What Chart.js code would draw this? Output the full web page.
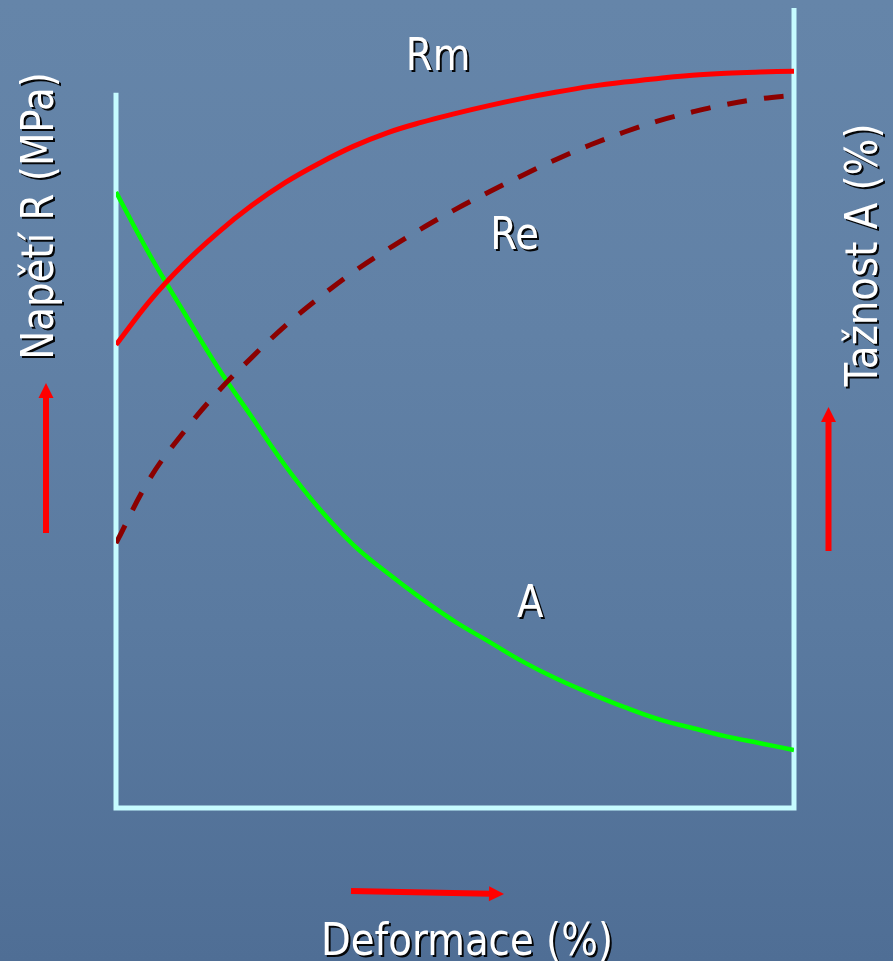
<!DOCTYPE html>
<html>
<head>
<meta charset="utf-8">
<script src="https://cdn.jsdelivr.net/npm/chart.js@4/dist/chart.umd.min.js"></script>
<style>
  html, body { margin: 0; padding: 0; }
  body {
    width: 893px; height: 961px; overflow: hidden;
    background: linear-gradient(180deg, #6585a9 0%, #6181a6 35%, #5a7aa0 65%, #4f6e95 100%);
  }
  #wrap { position: relative; width: 893px; height: 961px; }
  canvas { display: block; }
</style>
</head>
<body>
<div id="wrap"><canvas id="c" width="893" height="961"></canvas></div>
<script>
// Deformace (%) sample points along the horizontal axis
const deformace = [0, 5, 10, 15, 20, 25, 30, 35, 40, 45, 50, 55, 60, 65, 70, 75, 80, 85, 90, 95, 100];
// Mez pevnosti Rm (relative stress level)
const rm = [57.9, 63.4, 68.0, 71.9, 75.3, 78.2, 80.6, 82.7, 84.4, 85.7, 86.8, 87.8, 88.7, 89.5, 90.2, 90.75, 91.2, 91.6, 91.85, 92.0, 92.1];
// Mez kluzu Re (relative stress level)
const re = [33.1, 41.2, 47.0, 52.0, 56.3, 60.3, 63.8, 67.0, 69.8, 72.4, 74.8, 77.0, 79.1, 81.1, 82.9, 84.5, 85.9, 87.0, 87.95, 88.65, 89.1];
// Tažnost A (relative elongation level)
const tazA = [77.0, 69.1, 62.0, 55.1, 48.9, 42.75, 37.4, 32.9, 29.4, 26.2, 23.3, 20.8, 18.3, 16.15, 14.3, 12.6, 11.1, 10.0, 8.95, 8.1, 7.25];

// Curve labels anchored in data coordinates
const curveLabels = [
  { text: 'Rm', x: 47.5, y: 92.25 },
  { text: 'Re', x: 58.8, y: 69.9 },
  { text: 'A',  x: 61.1, y: 23.9 }
];
// Top ends of the two vertical axes (in y-scale units)
const leftAxisTop = 89.4;
const rightAxisTop = 100;

const toPts = (ys) => deformace.map((x, i) => ({ x, y: ys[i] }));

const FONT = '"DejaVu Sans", Verdana, sans-serif';
const FONT_PX = 44;
const SQUEEZE = 0.88;

function shadowText(ctx, text, x, y, rot) {
  ctx.save();
  ctx.translate(x, y);
  if (rot) ctx.rotate(rot);
  ctx.scale(SQUEEZE, 1);
  ctx.font = FONT_PX + 'px ' + FONT;
  ctx.textAlign = 'center';
  ctx.textBaseline = 'alphabetic';
  ctx.shadowColor = 'rgba(0,0,0,0.95)';
  ctx.shadowOffsetX = 2;
  ctx.shadowOffsetY = 2;
  ctx.shadowBlur = 0;
  ctx.fillStyle = '#ffffff';
  ctx.fillText(text, 0, 0);
  ctx.restore();
}

function arrow(ctx, x1, y1, x2, y2) {
  const ang = Math.atan2(y2 - y1, x2 - x1);
  const len = Math.hypot(x2 - x1, y2 - y1);
  ctx.save();
  ctx.translate(x1, y1);
  ctx.rotate(ang);
  ctx.fillStyle = '#ff0000';
  ctx.fillRect(0, -3, len - 14, 6);
  ctx.beginPath();
  ctx.moveTo(len, 0);
  ctx.lineTo(len - 15, -7.5);
  ctx.lineTo(len - 15, 7.5);
  ctx.closePath();
  ctx.fill();
  ctx.restore();
}

const frame = {
  id: 'frame',
  beforeDatasetsDraw(chart) {
    const { ctx, chartArea: a, scales: { y } } = chart;
    ctx.save();
    ctx.strokeStyle = '#c6fbff';
    ctx.lineWidth = 5;
    ctx.lineCap = 'butt';
    const bottom = y.getPixelForValue(0);
    ctx.beginPath();
    ctx.moveTo(a.left, y.getPixelForValue(leftAxisTop));
    ctx.lineTo(a.left, bottom + 2.5);
    ctx.moveTo(a.right, y.getPixelForValue(rightAxisTop));
    ctx.lineTo(a.right, bottom + 2.5);
    ctx.moveTo(a.left - 2.5, bottom);
    ctx.lineTo(a.right + 2.5, bottom);
    ctx.stroke();
    ctx.restore();
  },
  afterDraw(chart) {
    const { ctx, chartArea: a, scales: { x, y } } = chart;
    curveLabels.forEach(l => shadowText(ctx, l.text, x.getPixelForValue(l.x), y.getPixelForValue(l.y), 0));
    // Axis titles
    shadowText(ctx, 'Napětí R (MPa)', a.left - 63, 216, -Math.PI / 2);
    shadowText(ctx, 'Tažnost A (%)', a.right + 83, 255, -Math.PI / 2);
    shadowText(ctx, 'Deformace (%)', 467, a.bottom + 147, 0);
    // Direction arrows
    arrow(ctx, 46, 533, 46, 383);
    arrow(ctx, 828.5, 551, 828.5, 407);
    arrow(ctx, 351, 891, 504, 894);
  }
};

new Chart(document.getElementById('c'), {
  type: 'line',
  data: {
    datasets: [
      { label: 'Rm', data: toPts(rm), borderColor: '#ff0000', borderWidth: 5 },
      { label: 'Re', data: toPts(re), borderColor: '#8b0000', borderWidth: 5, borderDash: [20, 17] },
      { label: 'A', data: toPts(tazA), borderColor: '#00ff00', borderWidth: 4.5 }
    ]
  },
  options: {
    responsive: false,
    animation: false,
    events: [],
    layout: { padding: { left: 116, right: 99, top: 8, bottom: 153 } },
    elements: {
      point: { radius: 0 },
      line: { tension: 0.4, fill: false, borderCapStyle: 'butt' }
    },
    scales: {
      x: { type: 'linear', min: 0, max: 100, display: false },
      y: { type: 'linear', min: 0, max: 100, display: false }
    },
    plugins: { legend: { display: false }, tooltip: { enabled: false } }
  },
  plugins: [frame]
});
</script>
</body>
</html>
